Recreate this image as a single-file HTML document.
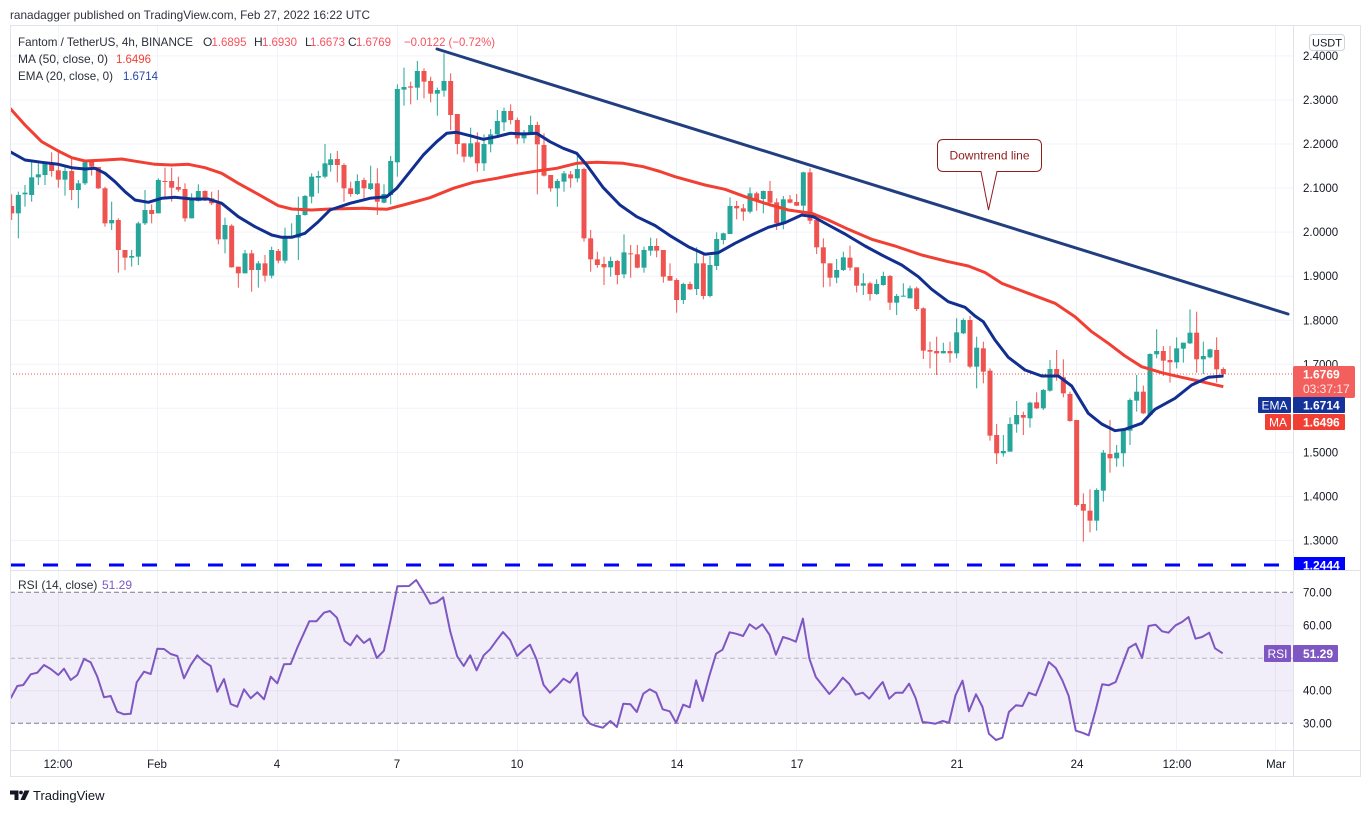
<!DOCTYPE html>
<html>
<head>
<meta charset="utf-8">
<style>
html,body{margin:0;padding:0;background:#fff;}
body{width:1371px;height:813px;overflow:hidden;position:relative;}
svg{position:absolute;left:0;top:0;}
svg text{font-family:"Liberation Sans",sans-serif;}
.u path{stroke:#26a69a;stroke-width:3;fill:none}
.u rect{fill:#26a69a}
.d path{stroke:#ef5350;stroke-width:3;fill:none}
.d rect{fill:#ef5350}
.grid line{stroke:#f0f3fa;stroke-width:1}
.ax text{font-size:11.5px;fill:#131722}
</style>
</head>
<body>
<svg width="1371" height="813" viewBox="0 0 1371 813" xmlns="http://www.w3.org/2000/svg">
<defs>
<clipPath id="mainclip"><rect x="10" y="25" width="1283" height="545"/></clipPath>
<clipPath id="rsiclip"><rect x="10" y="571" width="1283" height="179"/></clipPath>
</defs>

<!-- header -->
<text x="10" y="19" font-size="12" fill="#2f323d" textLength="360" lengthAdjust="spacingAndGlyphs">ranadagger published on TradingView.com, Feb 27, 2022 16:22 UTC</text>

<!-- grid main -->
<g class="grid">
<line x1="10" x2="1293" y1="55.9" y2="55.9"/>
<line x1="10" x2="1293" y1="100" y2="100"/>
<line x1="10" x2="1293" y1="144" y2="144"/>
<line x1="10" x2="1293" y1="188" y2="188"/>
<line x1="10" x2="1293" y1="232.1" y2="232.1"/>
<line x1="10" x2="1293" y1="276.2" y2="276.2"/>
<line x1="10" x2="1293" y1="320.2" y2="320.2"/>
<line x1="10" x2="1293" y1="364.3" y2="364.3"/>
<line x1="10" x2="1293" y1="408.3" y2="408.3"/>
<line x1="10" x2="1293" y1="452.4" y2="452.4"/>
<line x1="10" x2="1293" y1="496.4" y2="496.4"/>
<line x1="10" x2="1293" y1="540.5" y2="540.5"/>
<line x1="58.5" x2="58.5" y1="25" y2="750"/>
<line x1="157.5" x2="157.5" y1="25" y2="750"/>
<line x1="277.5" x2="277.5" y1="25" y2="750"/>
<line x1="397.5" x2="397.5" y1="25" y2="750"/>
<line x1="517.5" x2="517.5" y1="25" y2="750"/>
<line x1="676.5" x2="676.5" y1="25" y2="750"/>
<line x1="796.5" x2="796.5" y1="25" y2="750"/>
<line x1="956.5" x2="956.5" y1="25" y2="750"/>
<line x1="1076.5" x2="1076.5" y1="25" y2="750"/>
<line x1="1176.5" x2="1176.5" y1="25" y2="750"/>
<line x1="1275.5" x2="1275.5" y1="25" y2="750"/>
</g>

<!-- RSI band -->
<rect x="10" y="592.3" width="1283" height="131" fill="#7e57c2" fill-opacity="0.1"/>
<line x1="10" x2="1293" y1="625.7" y2="625.7" stroke="#e4dff0" stroke-width="1"/>
<line x1="10" x2="1293" y1="690.7" y2="690.7" stroke="#e4dff0" stroke-width="1"/>
<line x1="10" x2="1293" y1="592.3" y2="592.3" stroke="#787b86" stroke-width="1" stroke-dasharray="5 3"/>
<line x1="10" x2="1293" y1="658.3" y2="658.3" stroke="#787b86" stroke-opacity="0.5" stroke-width="1" stroke-dasharray="5 3"/>
<line x1="10" x2="1293" y1="723.3" y2="723.3" stroke="#787b86" stroke-width="1" stroke-dasharray="5 3"/>

<g clip-path="url(#mainclip)">
<!-- candles segment 1 -->
<g transform="translate(5 45) scale(0.33333)">
<g class="d"><path d="M20 448V525"/><rect x="12.5" y="483" width="15" height="22"/></g>
<g class="u"><path d="M40 440V580"/><rect x="32.5" y="450" width="15" height="55"/></g>
<g class="u"><path d="M60 420V485"/><rect x="52.5" y="443" width="15" height="5"/></g>
<g class="u"><path d="M80 350V470"/><rect x="72.5" y="397" width="15" height="53"/></g>
<g class="u"><path d="M100 355V420"/><rect x="92.5" y="388" width="15" height="9"/></g>
<g class="u"><path d="M120 350V420"/><rect x="112.5" y="352" width="15" height="38"/></g>
<g class="d"><path d="M140 322V395"/><rect x="132.5" y="352" width="15" height="26"/></g>
<g class="d"><path d="M160 322V428"/><rect x="152.5" y="376" width="15" height="28"/></g>
<g class="u"><path d="M180 365V452"/><rect x="172.5" y="378" width="15" height="26"/></g>
<g class="d"><path d="M200 340V465"/><rect x="192.5" y="378" width="15" height="57"/></g>
<g class="u"><path d="M220 405V490"/><rect x="212.5" y="415" width="15" height="20"/></g>
<g class="u"><path d="M240 345V420"/><rect x="232.5" y="352" width="15" height="63"/></g>
<g class="d"><path d="M260 345V392"/><rect x="252.5" y="350" width="15" height="15"/></g>
<g class="d"><path d="M280 366V432"/><rect x="272.5" y="366" width="15" height="64"/></g>
<g class="d"><path d="M300 425V545"/><rect x="292.5" y="430" width="15" height="105"/></g>
<g class="u"><path d="M320 470V555"/><rect x="312.5" y="525" width="15" height="10"/></g>
<g class="d"><path d="M340 520V683"/><rect x="332.5" y="525" width="15" height="90"/></g>
<g class="d"><path d="M360 615V675"/><rect x="352.5" y="615" width="15" height="23"/></g>
<g class="u"><path d="M380 615V665"/><rect x="372.5" y="633" width="15" height="5"/></g>
<g class="u"><path d="M400 530V660"/><rect x="392.5" y="535" width="15" height="100"/></g>
<g class="u"><path d="M420 435V540"/><rect x="412.5" y="495" width="15" height="40"/></g>
<g class="d"><path d="M440 478V535"/><rect x="432.5" y="495" width="15" height="12"/></g>
<g class="u"><path d="M460 400V505"/><rect x="452.5" y="405" width="15" height="100"/></g>
<g class="d"><path d="M480 368V455"/><rect x="472.5" y="408" width="15" height="3"/></g>
<g class="d"><path d="M500 368V470"/><rect x="492.5" y="408" width="15" height="20"/></g>
<g class="d"><path d="M520 395V440"/><rect x="512.5" y="426" width="15" height="8"/></g>
<g class="d"><path d="M540 415V530"/><rect x="532.5" y="432" width="15" height="88"/></g>
<g class="u"><path d="M560 445V520"/><rect x="552.5" y="465" width="15" height="55"/></g>
<g class="u"><path d="M580 418V470"/><rect x="572.5" y="438" width="15" height="30"/></g>
<g class="d"><path d="M600 436V468"/><rect x="592.5" y="438" width="15" height="27"/></g>
<g class="d"><path d="M620 440V480"/><rect x="612.5" y="460" width="15" height="15"/></g>
<g class="d"><path d="M640 435V598"/><rect x="632.5" y="475" width="15" height="108"/></g>
<g class="u"><path d="M660 518V625"/><rect x="652.5" y="540" width="15" height="43"/></g>
<g class="d"><path d="M680 538V668"/><rect x="672.5" y="542" width="15" height="125"/></g>
<g class="d"><path d="M700 665V728"/><rect x="692.5" y="665" width="15" height="20"/></g>
<g class="u"><path d="M720 615V685"/><rect x="712.5" y="625" width="15" height="60"/></g>
<g class="d"><path d="M740 615V740"/><rect x="732.5" y="625" width="15" height="50"/></g>
<g class="u"><path d="M760 648V728"/><rect x="752.5" y="655" width="15" height="20"/></g>
<g class="d"><path d="M780 630V710"/><rect x="772.5" y="655" width="15" height="37"/></g>
<g class="u"><path d="M800 605V700"/><rect x="792.5" y="615" width="15" height="77"/></g>
<g class="d"><path d="M820 612V655"/><rect x="812.5" y="618" width="15" height="29"/></g>
<g class="u"><path d="M840 548V655"/><rect x="832.5" y="578" width="15" height="69"/></g>
<g class="u"><path d="M860 535V580"/><rect x="852.5" y="575" width="15" height="5"/></g>
<g class="u"><path d="M880 455V645"/><rect x="872.5" y="510" width="15" height="68"/></g>
<g class="u"><path d="M900 450V512"/><rect x="892.5" y="453" width="15" height="57"/></g>
<g class="u"><path d="M920 385V475"/><rect x="912.5" y="395" width="15" height="60"/></g>
<g class="u"><path d="M940 378V445"/><rect x="932.5" y="393" width="15" height="5"/></g>
<g class="u"><path d="M960 297V400"/><rect x="952.5" y="355" width="15" height="40"/></g>
</g>

<!-- candles segment 2 -->
<g transform="translate(330 45) scale(0.33333)">
<g class="u"><path d="M2 325V380"/><rect x="-5.5" y="343" width="15" height="17"/></g>
<g class="d"><path d="M22 318V412"/><rect x="14.5" y="342" width="15" height="18"/></g>
<g class="d"><path d="M42 355V470"/><rect x="34.5" y="360" width="15" height="70"/></g>
<g class="d"><path d="M62 410V455"/><rect x="54.5" y="430" width="15" height="17"/></g>
<g class="u"><path d="M82 388V450"/><rect x="74.5" y="408" width="15" height="39"/></g>
<g class="d"><path d="M102 398V460"/><rect x="94.5" y="405" width="15" height="25"/></g>
<g class="u"><path d="M122 362V435"/><rect x="114.5" y="415" width="15" height="17"/></g>
<g class="d"><path d="M142 370V510"/><rect x="134.5" y="415" width="15" height="55"/></g>
<g class="u"><path d="M162 418V475"/><rect x="154.5" y="447" width="15" height="26"/></g>
<g class="u"><path d="M182 333V478"/><rect x="174.5" y="348" width="15" height="102"/></g>
<g class="u"><path d="M202 118V395"/><rect x="194.5" y="132" width="15" height="220"/></g>
<g class="u"><path d="M222 68V182"/><rect x="214.5" y="126" width="15" height="8"/></g>
<g class="d"><path d="M242 110V178"/><rect x="234.5" y="124" width="15" height="4"/></g>
<g class="u"><path d="M262 48V165"/><rect x="254.5" y="78" width="15" height="50"/></g>
<g class="d"><path d="M282 70V160"/><rect x="274.5" y="78" width="15" height="32"/></g>
<g class="d"><path d="M302 95V172"/><rect x="294.5" y="108" width="15" height="38"/></g>
<g class="u"><path d="M322 128V212"/><rect x="314.5" y="135" width="15" height="11"/></g>
<g class="u"><path d="M342 25V155"/><rect x="334.5" y="108" width="15" height="29"/></g>
<g class="d"><path d="M362 85V255"/><rect x="354.5" y="108" width="15" height="102"/></g>
<g class="d"><path d="M382 207V328"/><rect x="374.5" y="207" width="15" height="90"/></g>
<g class="d"><path d="M402 295V352"/><rect x="394.5" y="295" width="15" height="40"/></g>
<g class="u"><path d="M422 248V338"/><rect x="414.5" y="295" width="15" height="40"/></g>
<g class="d"><path d="M442 262V380"/><rect x="434.5" y="292" width="15" height="63"/></g>
<g class="u"><path d="M462 268V378"/><rect x="454.5" y="297" width="15" height="58"/></g>
<g class="u"><path d="M482 252V322"/><rect x="474.5" y="268" width="15" height="30"/></g>
<g class="u"><path d="M502 195V270"/><rect x="494.5" y="228" width="15" height="40"/></g>
<g class="u"><path d="M522 188V258"/><rect x="514.5" y="198" width="15" height="34"/></g>
<g class="d"><path d="M542 178V238"/><rect x="534.5" y="198" width="15" height="27"/></g>
<g class="d"><path d="M562 218V298"/><rect x="554.5" y="225" width="15" height="55"/></g>
<g class="u"><path d="M582 255V295"/><rect x="574.5" y="262" width="15" height="18"/></g>
<g class="u"><path d="M602 212V270"/><rect x="594.5" y="240" width="15" height="28"/></g>
<g class="d"><path d="M622 230V448"/><rect x="614.5" y="240" width="15" height="58"/></g>
<g class="d"><path d="M642 265V395"/><rect x="634.5" y="300" width="15" height="92"/></g>
<g class="d"><path d="M662 390V440"/><rect x="654.5" y="390" width="15" height="40"/></g>
<g class="u"><path d="M682 402V485"/><rect x="674.5" y="408" width="15" height="22"/></g>
<g class="u"><path d="M702 378V440"/><rect x="694.5" y="385" width="15" height="25"/></g>
<g class="d"><path d="M722 378V428"/><rect x="714.5" y="388" width="15" height="12"/></g>
<g class="u"><path d="M742 330V412"/><rect x="734.5" y="372" width="15" height="28"/></g>
<g class="d"><path d="M762 368V590"/><rect x="754.5" y="372" width="15" height="208"/></g>
<g class="d"><path d="M782 555V680"/><rect x="774.5" y="580" width="15" height="63"/></g>
<g class="d"><path d="M802 620V668"/><rect x="794.5" y="643" width="15" height="17"/></g>
<g class="d"><path d="M822 635V720"/><rect x="814.5" y="657" width="15" height="10"/></g>
<g class="u"><path d="M842 635V695"/><rect x="834.5" y="648" width="15" height="19"/></g>
<g class="d"><path d="M862 645V718"/><rect x="854.5" y="648" width="15" height="42"/></g>
<g class="u"><path d="M882 568V700"/><rect x="874.5" y="622" width="15" height="66"/></g>
<g class="d"><path d="M902 600V698"/><rect x="894.5" y="625" width="15" height="3"/></g>
<g class="d"><path d="M922 600V670"/><rect x="914.5" y="628" width="15" height="40"/></g>
<g class="u"><path d="M942 605V683"/><rect x="934.5" y="615" width="15" height="53"/></g>
<g class="u"><path d="M962 578V632"/><rect x="954.5" y="603" width="15" height="14"/></g>
</g>

<!-- candles segment 3 -->
<g transform="translate(655 140) scale(0.33333)">
<g class="d"><path d="M5 295V352"/><rect x="-2.5" y="318" width="15" height="14"/></g>
<g class="d"><path d="M25 330V428"/><rect x="17.5" y="330" width="15" height="80"/></g>
<g class="d"><path d="M45 370V422"/><rect x="37.5" y="408" width="15" height="14"/></g>
<g class="d"><path d="M65 415V518"/><rect x="57.5" y="420" width="15" height="60"/></g>
<g class="u"><path d="M85 428V492"/><rect x="77.5" y="432" width="15" height="48"/></g>
<g class="d"><path d="M105 425V450"/><rect x="97.5" y="432" width="15" height="16"/></g>
<g class="u"><path d="M125 322V465"/><rect x="117.5" y="370" width="15" height="77"/></g>
<g class="d"><path d="M145 345V478"/><rect x="137.5" y="370" width="15" height="98"/></g>
<g class="u"><path d="M165 348V472"/><rect x="157.5" y="375" width="15" height="93"/></g>
<g class="u"><path d="M185 277V390"/><rect x="177.5" y="297" width="15" height="81"/></g>
<g class="u"><path d="M205 278V313"/><rect x="197.5" y="280" width="15" height="20"/></g>
<g class="u"><path d="M225 172V282"/><rect x="217.5" y="198" width="15" height="84"/></g>
<g class="d"><path d="M245 183V238"/><rect x="237.5" y="198" width="15" height="7"/></g>
<g class="d"><path d="M265 192V242"/><rect x="257.5" y="205" width="15" height="10"/></g>
<g class="u"><path d="M285 142V220"/><rect x="277.5" y="160" width="15" height="55"/></g>
<g class="d"><path d="M305 155V212"/><rect x="297.5" y="160" width="15" height="20"/></g>
<g class="u"><path d="M325 152V220"/><rect x="317.5" y="153" width="15" height="24"/></g>
<g class="d"><path d="M345 123V200"/><rect x="337.5" y="153" width="15" height="35"/></g>
<g class="d"><path d="M365 175V270"/><rect x="357.5" y="187" width="15" height="63"/></g>
<g class="u"><path d="M385 168V268"/><rect x="377.5" y="178" width="15" height="72"/></g>
<g class="d"><path d="M405 165V190"/><rect x="397.5" y="178" width="15" height="10"/></g>
<g class="d"><path d="M425 162V198"/><rect x="417.5" y="186" width="15" height="11"/></g>
<g class="u"><path d="M445 95V220"/><rect x="437.5" y="97" width="15" height="100"/></g>
<g class="d"><path d="M465 85V252"/><rect x="457.5" y="97" width="15" height="145"/></g>
<g class="d"><path d="M485 240V342"/><rect x="477.5" y="240" width="15" height="82"/></g>
<g class="d"><path d="M505 295V442"/><rect x="497.5" y="322" width="15" height="48"/></g>
<g class="d"><path d="M525 370V440"/><rect x="517.5" y="370" width="15" height="43"/></g>
<g class="u"><path d="M545 357V430"/><rect x="537.5" y="390" width="15" height="23"/></g>
<g class="u"><path d="M565 335V393"/><rect x="557.5" y="352" width="15" height="38"/></g>
<g class="d"><path d="M585 317V392"/><rect x="577.5" y="353" width="15" height="30"/></g>
<g class="d"><path d="M605 382V457"/><rect x="597.5" y="382" width="15" height="55"/></g>
<g class="u"><path d="M625 400V465"/><rect x="617.5" y="430" width="15" height="7"/></g>
<g class="d"><path d="M645 425V482"/><rect x="637.5" y="430" width="15" height="32"/></g>
<g class="u"><path d="M665 418V465"/><rect x="657.5" y="432" width="15" height="30"/></g>
<g class="u"><path d="M685 395V437"/><rect x="677.5" y="408" width="15" height="27"/></g>
<g class="d"><path d="M705 405V510"/><rect x="697.5" y="408" width="15" height="80"/></g>
<g class="u"><path d="M725 462V525"/><rect x="717.5" y="468" width="15" height="20"/></g>
<g class="u"><path d="M745 430V470"/><rect x="737.5" y="467" width="15" height="3"/></g>
<g class="u"><path d="M765 437V475"/><rect x="757.5" y="445" width="15" height="30"/></g>
<g class="d"><path d="M785 440V513"/><rect x="777.5" y="445" width="15" height="62"/></g>
<g class="d"><path d="M805 502V657"/><rect x="797.5" y="505" width="15" height="127"/></g>
<g class="d"><path d="M825 605V685"/><rect x="817.5" y="630" width="15" height="5"/></g>
<g class="d"><path d="M845 590V705"/><rect x="837.5" y="633" width="15" height="7"/></g>
<g class="u"><path d="M865 608V640"/><rect x="857.5" y="633" width="15" height="7"/></g>
<g class="d"><path d="M885 605V668"/><rect x="877.5" y="633" width="15" height="7"/></g>
<g class="u"><path d="M905 535V655"/><rect x="897.5" y="577" width="15" height="63"/></g>
<g class="u"><path d="M925 535V582"/><rect x="917.5" y="540" width="15" height="40"/></g>
<g class="d"><path d="M945 528V685"/><rect x="937.5" y="540" width="15" height="140"/></g>
</g>

<!-- candles segment 4 -->
<g transform="translate(975 270) scale(0.33333)">
<g class="u"><path d="M5 200V355"/><rect x="-2.5" y="233" width="15" height="57"/></g>
<g class="d"><path d="M25 215V340"/><rect x="17.5" y="235" width="15" height="70"/></g>
<g class="d"><path d="M45 295V512"/><rect x="37.5" y="302" width="15" height="195"/></g>
<g class="d"><path d="M65 462V582"/><rect x="57.5" y="495" width="15" height="55"/></g>
<g class="u"><path d="M85 495V560"/><rect x="77.5" y="543" width="15" height="7"/></g>
<g class="u"><path d="M105 442V545"/><rect x="97.5" y="462" width="15" height="83"/></g>
<g class="u"><path d="M125 393V488"/><rect x="117.5" y="435" width="15" height="28"/></g>
<g class="d"><path d="M145 425V495"/><rect x="137.5" y="435" width="15" height="8"/></g>
<g class="u"><path d="M165 395V473"/><rect x="157.5" y="398" width="15" height="47"/></g>
<g class="d"><path d="M185 367V417"/><rect x="177.5" y="397" width="15" height="18"/></g>
<g class="u"><path d="M205 357V420"/><rect x="197.5" y="360" width="15" height="55"/></g>
<g class="u"><path d="M225 270V365"/><rect x="217.5" y="297" width="15" height="65"/></g>
<g class="d"><path d="M245 240V332"/><rect x="237.5" y="297" width="15" height="25"/></g>
<g class="d"><path d="M265 268V382"/><rect x="257.5" y="322" width="15" height="48"/></g>
<g class="d"><path d="M285 365V455"/><rect x="277.5" y="372" width="15" height="81"/></g>
<g class="d"><path d="M305 450V710"/><rect x="297.5" y="450" width="15" height="255"/></g>
<g class="d"><path d="M325 670V815"/><rect x="317.5" y="702" width="15" height="20"/></g>
<g class="d"><path d="M345 658V787"/><rect x="337.5" y="722" width="15" height="30"/></g>
<g class="u"><path d="M365 655V782"/><rect x="357.5" y="660" width="15" height="92"/></g>
<g class="u"><path d="M385 540V695"/><rect x="377.5" y="548" width="15" height="114"/></g>
<g class="d"><path d="M405 450V608"/><rect x="397.5" y="552" width="15" height="13"/></g>
<g class="u"><path d="M425 525V590"/><rect x="417.5" y="548" width="15" height="17"/></g>
<g class="u"><path d="M445 480V590"/><rect x="437.5" y="480" width="15" height="70"/></g>
<g class="u"><path d="M465 385V525"/><rect x="457.5" y="390" width="15" height="92"/></g>
<g class="u"><path d="M485 315V425"/><rect x="477.5" y="365" width="15" height="27"/></g>
<g class="d"><path d="M505 347V432"/><rect x="497.5" y="365" width="15" height="65"/></g>
<g class="u"><path d="M525 250V435"/><rect x="517.5" y="252" width="15" height="183"/></g>
<g class="u"><path d="M545 178V265"/><rect x="537.5" y="243" width="15" height="10"/></g>
<g class="d"><path d="M565 228V318"/><rect x="557.5" y="243" width="15" height="29"/></g>
<g class="d"><path d="M585 228V338"/><rect x="577.5" y="270" width="15" height="7"/></g>
<g class="u"><path d="M605 202V295"/><rect x="597.5" y="235" width="15" height="42"/></g>
<g class="u"><path d="M625 218V278"/><rect x="617.5" y="218" width="15" height="18"/></g>
<g class="u"><path d="M645 118V222"/><rect x="637.5" y="188" width="15" height="32"/></g>
<g class="d"><path d="M665 125V308"/><rect x="657.5" y="188" width="15" height="80"/></g>
<g class="u"><path d="M685 215V312"/><rect x="677.5" y="258" width="15" height="10"/></g>
<g class="u"><path d="M705 236V265"/><rect x="697.5" y="238" width="15" height="24"/></g>
<g class="d"><path d="M725 202V338"/><rect x="717.5" y="240" width="15" height="58"/></g>
<g class="d"><path d="M745 292V320"/><rect x="737.5" y="297" width="15" height="15"/></g>
</g>

<!-- price dotted line -->
<line x1="10" x2="1293" y1="374" y2="374" stroke="#ef5350" stroke-width="1" stroke-dasharray="1 2"/>

<!-- MA 50 -->
<polyline fill="none" stroke="#f23f33" stroke-width="3" stroke-linejoin="round" points="10,108.3 25,125 41.7,141.7 58.3,151 71.7,157.7 85,161 105,160 121.7,159 138.3,161.7 155,164.3 171.7,165 188.3,164.3 205,167.7 221.7,173.3 238.3,183.3 258.3,194.3 278.3,205.7 291.7,209 311.7,210 330,209 363.3,208.3 386.7,209.3 403.3,205 430,197.7 453.3,188.3 473.3,182.3 496.7,178.3 516.7,174.3 536.7,171 556.7,168.3 576.7,163.3 596.7,162.3 623.3,163.3 643.3,166.7 660,171.5 675,176.7 705,185 725,189.3 745,196.7 765,203.3 788.3,210 811.7,213.3 828.3,220 848.3,229.3 871.7,239.3 895,246 921.7,255 948.3,261.7 968.3,266 985,272.5 1001.7,283.3 1028.3,293.3 1055,303.3 1075,316.7 1091.7,331.7 1108.3,343.3 1125,356 1141.7,366.7 1161.7,372.7 1181.7,377.3 1201.7,381.7 1223.3,386.7"/>

<!-- EMA 20 -->
<polyline fill="none" stroke="#112e91" stroke-width="3" stroke-linejoin="round" points="10,151.7 25,160 41.7,162.3 58.3,164.3 71.7,167.7 85,169 95,168.3 105,173.3 115,181.7 125,191.7 135,200 148.3,202.3 161.7,198.3 175,197.3 191.7,199 208.3,199 221.7,203.3 238.3,216.7 255,226.7 271.7,235 281.7,237.3 291.7,237.3 305,233.3 318.3,221.7 330,210 350,203.3 370,198.3 386.7,196.7 396.7,188.3 410,171.7 423.3,155 436.7,141.7 446.7,133.3 456.7,132.3 470,135.7 483.3,139.3 496.7,136.7 510,133.3 523.3,134 536.7,133.3 550,141.7 563.3,148.3 576.7,153.3 586.7,165 603.3,187.7 620,205 636.7,216.7 655,225.5 671.7,236.7 688.3,246.7 705,254.3 718.3,252.7 735,243.3 751.7,235 768.3,227.3 785,222.7 801.7,215 813.3,216.7 828.3,225 845,234 865,246 881.7,255 901.7,265 918.3,276.7 931.7,289.3 948.3,301.7 965,307.3 975,316 983.3,321.7 995,340 1008.3,357.3 1025,370 1041.7,376 1058.3,376 1071.7,386 1088.3,413.3 1101.7,424 1115,430.7 1125,429.3 1141.7,423.3 1155,409.3 1175,398.3 1191.7,385 1208.3,377.3 1223.3,376"/>

<!-- trend line -->
<line x1="437" y1="49" x2="1288" y2="314" stroke="#213f7f" stroke-width="3" stroke-linecap="round"/>

<!-- support -->
<line x1="10" x2="1293" y1="565" y2="565" stroke="#0000ff" stroke-width="3" stroke-dasharray="15 18"/>

<!-- callout -->
<path d="M943.5 139.5 H1035.5 Q1041.5 139.5 1041.5 145.5 V165.5 Q1041.5 171.5 1035.5 171.5 H997 L988.5 210 L981 171.5 H943.5 Q937.5 171.5 937.5 165.5 V145.5 Q937.5 139.5 943.5 139.5 Z" fill="#ffffff" stroke="#8f1d1d" stroke-width="1"/>
<text x="989.5" y="159.5" font-size="12" fill="#8f1d1d" text-anchor="middle">Downtrend line</text>
</g>

<!-- RSI line -->
<g clip-path="url(#rsiclip)">
<polyline fill="none" stroke="#7e57c2" stroke-width="2" stroke-linejoin="round" points="10.7,698.3 17.3,686 23.3,685 30.7,674.3 37.3,672.7 44,665 50.7,669 58.3,675 64,668.7 70.7,680 77.3,675 84,659 90.7,662.3 97.3,676.7 104,697.3 110.7,696 117.3,711.7 124,714.3 130.7,713.7 136.7,682.3 144,671.7 150.7,674 157.3,648.7 164,649 170.7,654 177.3,656 184,678.3 190.7,665 197.3,655.3 204,661.7 210.7,666 217.3,691.7 224,679 230.7,704 237.3,706.7 244,689.3 250.7,698.3 257.3,692.3 264,699.3 270.7,676.7 277.3,683.3 284,664.3 290.7,664 297.6,647 309.3,621.3 316.4,621.3 324,612.7 329.9,611 336.9,617.7 344.6,641 350.4,645.3 356.9,635.3 363.9,643 369.8,638.7 376.8,658 383.9,650.7 390.9,618.7 397.4,586.3 409.1,586 416.2,580 423.2,591.3 430.2,603.7 436.7,602.3 443.2,597.3 450.2,631.3 457.2,656.3 463.7,666 470.2,655.3 476.6,670.3 483.7,655.3 490.1,649.3 496.6,640.3 503,632 510.1,640 517.1,656 523.6,650 530,644.7 536.5,659.3 543.5,684.7 550,692.7 557,686 563.5,678.7 569.9,682.7 577,672.7 583.4,715.3 589.9,723.7 596.3,726 602.8,727.7 610.4,721 616.9,727 623.3,703.7 630.4,704.3 636.8,712 643.3,693.7 649.7,689.3 656.2,692.7 662.7,709.3 669.7,711.3 676.1,722.7 683.2,704.7 689.7,707.3 696.1,680.3 702.6,701 709,677 716.1,653.7 722.5,649.7 729.6,632.3 736,633.7 743.1,636 749.5,624.3 756,629 762.4,624.3 769.5,634.7 775.9,654.7 783,637 789.4,639 795.9,641.7 802.9,618.7 809.4,658.7 815.8,677 822.3,685.3 829.3,694 835.8,687 842.8,677.7 849.3,684 855.7,694.7 862.8,692.7 869.2,698.7 875.7,690.3 882.7,682 889.2,698.7 895.6,692.7 902.7,692.7 909.1,683.7 915.6,698 922.6,722 929.1,722.7 935.5,723.7 942.6,721 949,722.7 955.5,695.3 962.5,680.7 969,711.3 976,694.3 982.5,707 988.9,733.7 996,740 1002.4,737.7 1008.9,712 1015.9,705.3 1022.4,706 1028.8,692.7 1035.8,695.3 1042.3,679.3 1048.8,662 1055.8,668 1062.3,680.3 1068.7,696 1075.8,730.7 1082.2,732.7 1088.7,735.3 1095.7,710 1102.2,684.3 1108.6,685.3 1115.7,682 1122.1,665.3 1128.6,648 1135.7,643.7 1142.1,658 1148.6,626 1155.6,624.7 1162.1,631.3 1168.5,632.7 1175.6,625.3 1182,622 1188.5,617 1195.5,638.7 1202,637 1209.3,632.7 1215,648.3 1222.7,653.3"/>
</g>

<!-- frame lines -->
<rect x="10.5" y="25.5" width="1350" height="751" fill="none" stroke="#e0e3eb" stroke-width="1"/>
<line x1="1293.5" x2="1293.5" y1="25" y2="777" stroke="#e0e3eb" stroke-width="1"/>
<line x1="10" x2="1361" y1="570.5" y2="570.5" stroke="#e0e3eb" stroke-width="1"/>
<line x1="10" x2="1361" y1="750.5" y2="750.5" stroke="#e0e3eb" stroke-width="1"/>

<!-- legend -->
<g font-size="12">
<text x="18" y="46" fill="#2a2e39" textLength="175" lengthAdjust="spacingAndGlyphs">Fantom / TetherUS, 4h, BINANCE</text>
<text x="203" y="46" fill="#2a2e39">O</text><text x="211.5" y="46" fill="#f7525f" textLength="35" lengthAdjust="spacingAndGlyphs">1.6895</text>
<text x="254" y="46" fill="#2a2e39">H</text><text x="262" y="46" fill="#f7525f" textLength="35" lengthAdjust="spacingAndGlyphs">1.6930</text>
<text x="305" y="46" fill="#2a2e39">L</text><text x="310" y="46" fill="#f7525f" textLength="35" lengthAdjust="spacingAndGlyphs">1.6673</text>
<text x="348" y="46" fill="#2a2e39">C</text><text x="356" y="46" fill="#f7525f" textLength="35" lengthAdjust="spacingAndGlyphs">1.6769</text>
<text x="404" y="46" fill="#f7525f" textLength="91" lengthAdjust="spacingAndGlyphs">−0.0122 (−0.72%)</text>
<text x="18" y="63" fill="#2a2e39" textLength="90" lengthAdjust="spacingAndGlyphs">MA (50, close, 0)</text><text x="116" y="63" fill="#f23f33" textLength="35" lengthAdjust="spacingAndGlyphs">1.6496</text>
<text x="18" y="80" fill="#2a2e39" textLength="95" lengthAdjust="spacingAndGlyphs">EMA (20, close, 0)</text><text x="123" y="80" fill="#2446a8" textLength="35" lengthAdjust="spacingAndGlyphs">1.6714</text>
<text x="18" y="589" fill="#2a2e39">RSI (14, close)</text><text x="102" y="589" fill="#7e57c2">51.29</text>
</g>

<!-- price axis -->
<g class="ax">
<text x="1303" y="60">2.4000</text>
<text x="1303" y="104">2.3000</text>
<text x="1303" y="148">2.2000</text>
<text x="1303" y="192">2.1000</text>
<text x="1303" y="236">2.0000</text>
<text x="1303" y="280">1.9000</text>
<text x="1303" y="324.5">1.8000</text>
<text x="1303" y="368.5">1.7000</text>
<text x="1303" y="456.5">1.5000</text>
<text x="1303" y="500.5">1.4000</text>
<text x="1303" y="544.5">1.3000</text>
<text x="1303" y="596.5">70.00</text>
<text x="1303" y="629.5">60.00</text>
<text x="1303" y="694.5">40.00</text>
<text x="1303" y="727.5">30.00</text>
</g>
<rect x="1309.5" y="34.5" width="35" height="16" rx="3" fill="#ffffff" stroke="#d1d4dc" stroke-width="1"/>
<text x="1327" y="46.5" font-size="11" fill="#131722" text-anchor="middle">USDT</text>

<!-- price tags -->
<rect x="1293" y="366" width="62" height="32" rx="2" fill="#f25f5c"/>
<text x="1303" y="378.5" font-size="12" font-weight="bold" fill="#ffffff">1.6769</text>
<text x="1303" y="393" font-size="12" fill="#ffffff" fill-opacity="0.85">03:37:17</text>

<rect x="1258" y="397" width="33" height="16" rx="1" fill="#13339b"/>
<text x="1274.5" y="409.5" font-size="12" fill="#ffffff" text-anchor="middle">EMA</text>
<rect x="1293" y="397" width="52" height="16" rx="1" fill="#13339b"/>
<text x="1303" y="409.5" font-size="12" font-weight="bold" fill="#ffffff">1.6714</text>

<rect x="1265" y="414" width="26" height="16" rx="1" fill="#f23f33"/>
<text x="1278" y="426.5" font-size="12" fill="#ffffff" text-anchor="middle">MA</text>
<rect x="1293" y="414" width="52" height="16" rx="1" fill="#f23f33"/>
<text x="1303" y="426.5" font-size="12" font-weight="bold" fill="#ffffff">1.6496</text>

<rect x="1294" y="557" width="51" height="13" fill="#0000ff"/>
<text x="1303" y="569.5" font-size="12" font-weight="bold" fill="#ffffff">1.2444</text>
<rect x="1294" y="571" width="66" height="12" fill="#ffffff"/>

<rect x="1264" y="645" width="27" height="17" rx="1" fill="#7e57c2"/>
<text x="1277.5" y="658" font-size="12" fill="#ffffff" text-anchor="middle">RSI</text>
<rect x="1293" y="645" width="45" height="17" rx="1" fill="#7e57c2"/>
<text x="1303" y="658" font-size="12" font-weight="bold" fill="#ffffff">51.29</text>

<!-- time axis -->
<g class="ax" text-anchor="middle">
<text x="58" y="768">12:00</text>
<text x="157" y="768">Feb</text>
<text x="277" y="768">4</text>
<text x="397" y="768">7</text>
<text x="517" y="768">10</text>
<text x="677" y="768">14</text>
<text x="797" y="768">17</text>
<text x="957" y="768">21</text>
<text x="1077" y="768">24</text>
<text x="1177" y="768">12:00</text>
<text x="1276" y="768">Mar</text>
</g>

<!-- footer logo -->
<path d="M10 790.5 H18.5 V800 H14.5 V794.5 H10 Z" fill="#131722"/>
<circle cx="21" cy="792.5" r="1.9" fill="#131722"/>
<path d="M24.5 790.5 H29.5 L25 800 H20.5 Z" fill="#131722"/>
<text x="33" y="800" font-size="13" fill="#131722">TradingView</text>
</svg>
</body>
</html>
